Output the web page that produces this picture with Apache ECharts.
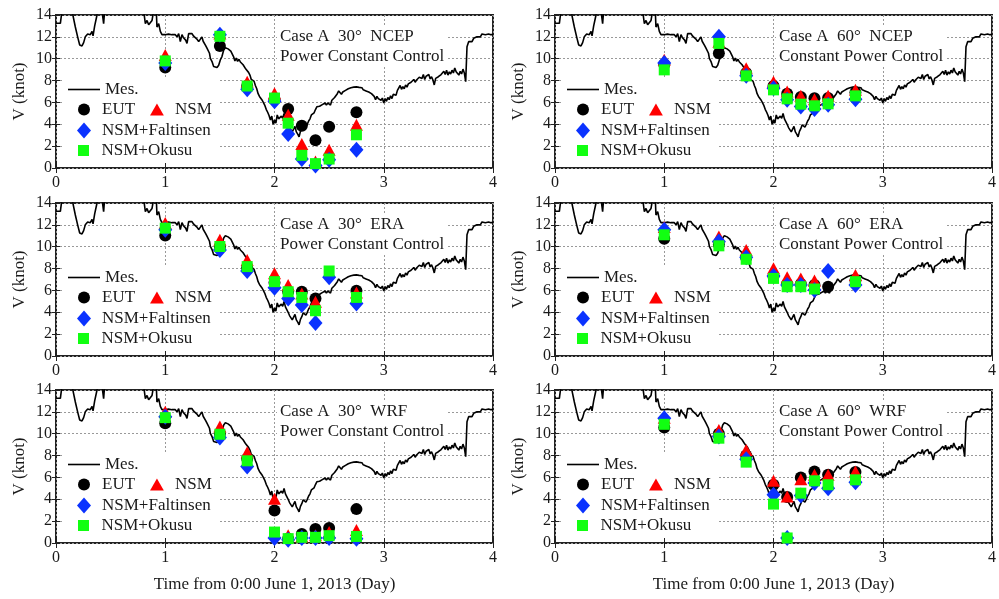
<!DOCTYPE html>
<html><head><meta charset="utf-8">
<script src="https://cdn.jsdelivr.net/npm/echarts@6/dist/echarts.min.js"></script>
<style>html,body{margin:0;padding:0;background:#fff}#c{width:999px;height:599px}</style>
</head><body><div id="c"></div>
<script>
// ---------- data ----------
const mesTime = [
 0.000,0.040,0.055,0.146,0.177,0.198,0.217,0.238,0.253,0.268,
 0.290,0.314,0.330,0.339,0.354,0.369,0.384,0.421,0.436,0.445,
 0.802,0.818,0.833,0.848,0.879,0.894,0.918,0.924,0.940,0.955,
 0.970,0.985,1.000,1.015,1.030,1.045,1.060,1.075,1.092,1.108,
 1.123,1.138,1.153,1.165,1.175,1.187,1.199,1.214,1.230,1.245,
 1.260,1.275,1.290,1.306,1.321,1.336,1.347,1.358,1.370,1.382,
 1.397,1.405,1.413,1.428,1.443,1.458,1.474,1.489,1.504,1.519,
 1.535,1.550,1.5625,1.575,1.5875,1.600,1.6125,1.625,1.6375,1.650,
 1.6625,1.675,1.6875,1.700,1.7125,1.725,1.7375,1.750,1.7625,1.775,
 1.7875,1.800,1.8125,1.825,1.8375,1.850,1.8625,1.875,1.8875,1.900,
 1.9125,1.925,1.9375,1.950,1.9625,1.975,1.9875,2.000,2.0125,2.025,
 2.0375,2.050,2.0625,2.075,2.0875,2.100,2.1125,2.125,2.1375,2.150,
 2.1625,2.175,2.1875,2.200,2.2125,2.225,2.2375,2.250,2.2625,2.275,
 2.2875,2.300,2.3125,2.325,2.3375,2.350,2.3625,2.375,2.3875,2.400,
 2.4125,2.425,2.4375,2.450,2.4625,2.475,2.4875,2.500,2.5125,2.525,
 2.5375,2.550,2.5625,2.575,2.5875,2.600,2.6125,2.625,2.6375,2.650,
 2.6625,2.675,2.6875,2.700,2.7125,2.725,2.7375,2.750,2.7625,2.775,
 2.7875,2.800,2.8125,2.825,2.8375,2.850,2.8625,2.875,2.8875,2.900,
 2.9125,2.925,2.9375,2.950,2.9625,2.975,2.9875,3.000,3.0125,3.025,
 3.0375,3.050,3.0625,3.075,3.0875,3.100,3.1125,3.125,3.1375,3.150,
 3.1625,3.175,3.1875,3.200,3.2125,3.225,3.2375,3.250,3.2625,3.275,
 3.2875,3.300,3.3125,3.325,3.3375,3.350,3.3625,3.375,3.3875,3.400,
 3.4125,3.425,3.4375,3.450,3.4625,3.475,3.4875,3.500,3.5125,3.525,
 3.5375,3.550,3.5625,3.575,3.5875,3.600,3.6125,3.625,3.6375,3.650,
 3.6625,3.675,3.6875,3.700,3.7125,3.725,3.7375,3.750,3.762,3.777,
 3.793,3.808,3.823,3.838,3.853,3.869,3.884,3.899,3.915,3.930,
 3.945,3.960,3.980,4.000
];
const mesSpeed = [
 13.24,13.24,14.4,14.4,12.9,12.0,11.26,11.17,11.47,12.0,
 12.26,12.2,12.5,12.1,13.0,13.7,14.4,14.4,13.2,14.4,
 14.4,13.2,13.5,13.1,13.5,14.4,14.4,12.9,13.2,12.5,
 12.2,12.25,12.2,12.22,12.25,12.18,12.2,12.25,12.2,12.0,
 12.3,11.56,12.2,11.95,12.1,11.7,11.4,12.3,12.15,12.3,
 12.06,12.2,11.8,11.56,11.4,12.0,11.6,11.7,11.2,10.96,
 11.1,10.5,10.04,9.74,9.28,9.35,9.19,9.4,9.89,10.2,
 10.8,11.0,11.15,10.9,11.05,10.7,10.55,10.2,9.8,10.05,
 9.75,9.95,9.7,9.85,9.45,9.55,9.05,9.0,8.75,8.5,
 8.1,8.15,7.95,7.55,7.25,6.8,6.55,6.6,6.2,5.95,
 5.7,5.35,5.1,4.8,4.4,4.75,4.0,4.4,4.1,4.85,
 4.5,4.4,4.75,4.55,5.0,4.5,4.25,4.0,3.7,3.55,
 3.3,3.55,3.8,3.3,3.1,2.85,3.35,3.6,3.95,4.1,
 3.75,4.0,4.3,4.5,4.85,4.75,5.05,5.35,5.6,5.45,
 5.65,5.55,5.8,5.65,5.95,5.75,5.95,5.93,5.75,6.2,
 6.05,6.45,6.35,6.8,7.05,7.15,6.75,6.95,6.8,7.1,
 7.05,7.25,7.15,7.35,7.25,7.4,7.3,7.42,7.28,7.38,
 7.22,7.35,7.15,7.28,7.05,7.18,6.95,7.05,6.8,6.9,
 6.55,6.25,6.55,6.35,6.5,6.2,6.4,5.95,6.35,6.1,
 6.45,6.25,6.6,6.35,6.75,6.9,6.65,7.1,7.0,7.55,
 7.2,7.45,7.25,7.6,7.4,7.7,7.55,7.85,7.7,8.1,
 7.85,8.05,7.9,8.3,8.45,8.2,8.55,8.1,8.4,8.25,
 8.55,8.15,8.35,8.05,7.6,8.2,8.05,8.35,8.2,8.55,
 8.4,8.85,8.55,8.95,8.5,8.8,8.6,8.95,8.7,9.15,
 8.8,8.95,8.5,8.85,8.6,9.05,8.7,7.9,11.1,11.56,
 11.4,11.56,11.87,11.7,12.0,12.1,12.0,12.26,12.1,12.2,
 12.3,12.26,12.2,12.2
];
const simTime = [1, 1.5, 1.75, 2, 2.125, 2.25, 2.375, 2.5, 2.75];

const eut30NCEP  = [9.19, 11.17, 7.5, 6.3, 5.39, 3.86, 2.53, 3.77, 5.11];
const nsm30NCEP  = [10.35, 12.3, 7.9, 6.85, 4.87, 2.2, 0.6, 1.67, 3.96];
const falt30NCEP = [9.6, 12.2, 7.2, 6.1, 3.1, 0.82, 0.24, 0.76, 1.67];
const oku30NCEP  = [9.8, 12.05, 7.5, 6.4, 4.1, 1.16, 0.4, 0.82, 3.04];

const eut60NCEP  = [9.5, 10.5, 8.7, 7.5, 6.8, 6.5, 6.39, 6.4, 6.9];
const nsm60NCEP  = [9.9, 11.56, 9.13, 7.9, 7.0, 6.6, 6.3, 6.6, 7.15];
const falt60NCEP = [9.6, 12.0, 8.43, 7.3, 6.24, 5.63, 5.39, 5.78, 6.3];
const oku60NCEP  = [8.98, 11.4, 8.43, 7.15, 6.33, 5.84, 5.69, 5.87, 6.6];

const eut30ERA   = [11.03, 10.0, 8.1, 6.7, 5.9, 5.88, 5.27, null, 5.97];
const nsm30ERA   = [12.16, 10.63, 8.79, 7.57, 6.5, 5.73, 4.96, null, 5.82];
const falt30ERA  = [11.55, 9.71, 7.78, 6.25, 5.27, 4.66, 3.03, 7.2, 4.81];
const oku30ERA   = [11.7, 10.02, 8.18, 6.8, 5.88, 5.36, 4.14, 7.78, 5.36];

const eut60ERA   = [10.72, 10.2, 9.0, 7.3, 6.6, 6.6, 6.5, 6.34, 6.9];
const nsm60ERA   = [11.8, 10.94, 9.71, 8.03, 7.2, 7.1, 6.9, null, 7.41];
const falt60ERA  = [11.55, 10.48, 9.04, 7.32, 6.5, 6.5, 6.04, 7.78, 6.5];
const oku60ERA   = [11.09, 10.08, 8.85, 7.1, 6.34, 6.34, 6.13, null, 6.8];

const eut30WRF   = [10.96, 10.0, 7.7, 2.98, 0.4, 0.82, 1.28, 1.37, 3.1];
const nsm30WRF   = [12.0, 10.65, 8.3, 4.05, 0.7, 0.6, 0.7, 1.0, 1.2];
const falt30WRF  = [11.56, 9.65, 7.0, 0.46, 0.3, 0.46, 0.46, 0.46, 0.4];
const oku30WRF   = [11.47, 9.95, 7.52, 1.0, 0.4, 0.52, 0.52, 0.67, 0.6];

const eut60WRF   = [10.56, 10.0, 8.0, 5.33, 4.2, 6.0, 6.54, 6.24, 6.5];
const nsm60WRF   = [11.47, 10.35, 8.52, 5.69, 4.26, 5.84, 6.24, 6.24, 6.54];
const falt60WRF  = [11.41, 9.74, 7.67, 4.41, 0.46, 4.35, 5.48, 5.02, 5.57];
const oku60WRF   = [10.86, 9.59, 7.4, 3.56, 0.46, 4.56, 5.69, 5.33, 5.78];

const caseTitles = [
 'Case A  30°  NCEP\nPower Constant Control',
 'Case A  60°  NCEP\nConstant Power Control',
 'Case A  30°  ERA\nPower Constant Control',
 'Case A  60°  ERA\nConstant Power Control',
 'Case A  30°  WRF\nPower Constant Control',
 'Case A  60°  WRF\nConstant Power Control'
];
const seriesNames = ['Mes.', 'EUT', 'NSM', 'NSM+Faltinsen', 'NSM+Okusu'];
const yAxisName = 'V (knot)';
const xAxisName = 'Time from 0:00 June 1, 2013 (Day)';

// ---------- layout / style ----------
const panels = [
 [eut30NCEP, nsm30NCEP, falt30NCEP, oku30NCEP],
 [eut60NCEP, nsm60NCEP, falt60NCEP, oku60NCEP],
 [eut30ERA, nsm30ERA, falt30ERA, oku30ERA],
 [eut60ERA, nsm60ERA, falt60ERA, oku60ERA],
 [eut30WRF, nsm30WRF, falt30WRF, oku30WRF],
 [eut60WRF, nsm60WRF, falt60WRF, oku60WRF]
];
const FONT = "'Liberation Serif','Times New Roman',serif";
const TXT = '#1a1a1a';
const gridLefts = [56, 555];
const gridTops = [15, 203, 390];
const GW = 437, GH = 153;
const symColors = ['#000000', '#ff0000', '#0a32ff', '#11ff11'];
const symTypes = ['circle', 'triangle', 'diamond', 'rect'];
const symSizes = [12, [13, 12], [14, 16], 11];
const linePath = 'path://M0,0H32V1.6H0Z';
const circPath = 'circle';
const triPath = 'path://M0,10L5.75,0L11.5,10Z';
const diaPath = 'path://M7,0L14,8L7,16L0,8Z';
const sqPath = 'path://M0,0H10V10H0Z';

const grid = [], xB = [], xT = [], yL = [], yR = [], series = [], legend = [], title = [], graphic = [];
const legText = {fontFamily: FONT, fontSize: 17, color: TXT};
const split = {show: true, lineStyle: {color: '#999', type: [2, 2], width: 1}};

panels.forEach((p, i) => {
  const gl = gridLefts[i % 2], gt = gridTops[Math.floor(i / 2)];
  const bottom = i >= 4;
  grid.push({left: gl, top: gt, width: GW, height: GH, show: true, borderColor: '#222', borderWidth: 2,
             backgroundColor: 'transparent', containLabel: false, outerBoundsMode: 'none'});
  xB.push({type: 'value', gridIndex: i, min: 0, max: 4, interval: 1,
    axisLine: {show: false}, axisTick: {show: true, inside: true, length: 5, lineStyle: {color: '#222'}},
    axisLabel: {fontFamily: FONT, fontSize: 16, color: TXT, margin: 7},
    splitLine: split,
    name: bottom ? xAxisName : '', nameLocation: 'middle', nameGap: 33,
    nameTextStyle: {fontFamily: FONT, fontSize: 17, color: TXT}});
  xT.push({type: 'value', gridIndex: i, position: 'top', min: 0, max: 4, interval: 1,
    axisLine: {show: false}, axisTick: {show: true, inside: true, length: 5, lineStyle: {color: '#222'}},
    axisLabel: {show: false}, splitLine: {show: false}});
  yL.push({type: 'value', gridIndex: i, min: 0, max: 14, interval: 2,
    axisLine: {show: false}, axisTick: {show: true, inside: true, length: 4, lineStyle: {color: '#222'}},
    axisLabel: {fontFamily: FONT, fontSize: 16, color: TXT, margin: 4},
    splitLine: split,
    name: yAxisName, nameLocation: 'middle', nameGap: 28, nameRotate: 90,
    nameTextStyle: {fontFamily: FONT, fontSize: 17, color: TXT}});
  yR.push({type: 'value', gridIndex: i, position: 'right', min: 0, max: 14, interval: 2,
    axisLine: {show: false}, axisTick: {show: true, inside: true, length: 4, lineStyle: {color: '#222'}},
    axisLabel: {show: false}, splitLine: {show: false}});

  series.push({type: 'line', name: seriesNames[0], xAxisIndex: i, yAxisIndex: i,
    data: mesTime.map((t, k) => [t, mesSpeed[k]]), symbol: 'none', showSymbol: false, clip: true,
    lineStyle: {color: '#000', width: 1.6}, itemStyle: {color: '#000'}, animation: false, silent: true, z: 2});
  p.forEach((vals, s) => {
    const data = [];
    simTime.forEach((t, k) => { if (vals[k] !== null) data.push([t, vals[k]]); });
    series.push({type: 'scatter', name: seriesNames[s + 1], xAxisIndex: i, yAxisIndex: i, data,
      symbol: symTypes[s], symbolSize: symSizes[s], itemStyle: {color: symColors[s], opacity: 1},
      animation: false, silent: true, z: 3});
  });

  // legend boxes are positioned by the bounding box of their visible icons
  legend.push({left: gl + 12, top: gt + 75 - 9, padding: 0,
    data: [{name: 'Mes.', icon: linePath}], itemWidth: 32, itemHeight: 12,
    textStyle: legText, selectedMode: false});
  legend.push({left: gl + 22, top: gt + 95 - 9, padding: 0, itemGap: 15,
    data: [{name: 'EUT', icon: circPath}, {name: 'NSM', icon: triPath}], itemWidth: 26, itemHeight: 12,
    textStyle: legText, selectedMode: false});
  legend.push({left: gl + 21, top: gt + 116 - 9, padding: 0,
    data: [{name: 'NSM+Faltinsen', icon: diaPath}], itemWidth: 26, itemHeight: 16,
    textStyle: legText, selectedMode: false});
  legend.push({left: gl + 22, top: gt + 136 - 9, padding: 0,
    data: [{name: 'NSM+Okusu', icon: sqPath}], itemWidth: 26, itemHeight: 11,
    textStyle: legText, selectedMode: false});

  title.push({text: caseTitles[i], left: gl + 221, top: gt + 12, padding: [0, 3], backgroundColor: '#fff',
    textStyle: {fontFamily: FONT, fontSize: 17, fontWeight: 'normal', color: TXT, lineHeight: 20}});

  graphic.push({type: 'rect', shape: {x: gl + 6, y: gt + 62, width: 156, height: 86},
    style: {fill: '#fff'}, z: 1, silent: true});
});

const chart = echarts.init(document.getElementById('c'), null, {renderer: 'canvas'});
chart.setOption({
  animation: false,
  backgroundColor: '#fff',
  grid, xAxis: xB.concat(xT), yAxis: yL.concat(yR),
  legend, title, graphic, series
});
</script>
</body></html>
